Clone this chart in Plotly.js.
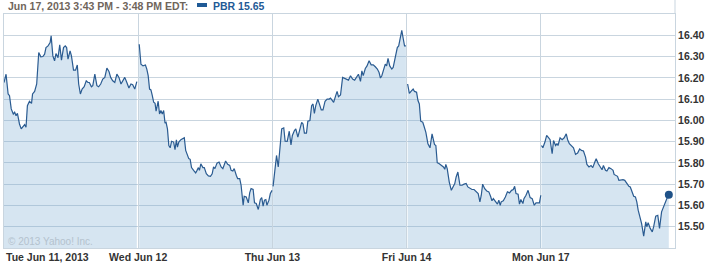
<!DOCTYPE html>
<html>
<head>
<meta charset="utf-8">
<script src="https://cdn.plot.ly/plotly-3.0.1.min.js"></script>
<style>
html,body{margin:0;padding:0;background:#fff;}
#chart{width:712px;height:263px;}
</style>
</head>
<body>
<div id="chart"></div>
<script>
// ---- data (minutes after 9:30 open, price) ----
const dayLabels = ["Tue Jun 11, 2013", "Wed Jun 12", "Thu Jun 13", "Fri Jun 14", "Mon Jun 17"];
const minutesPerDay = 390;

const day1Min = [0,6,12,16,21,27,31,35,39,45,50,56,60,64,68,74,80,83,89,95,101,107,113,118,122,128,134,137,142,147,151,157,162,167,173,178,182,186,192,196,202,208,213,217,222,227,233,239,244,248,254,258,264,270,275,281,287,293,299,305,310,316,322,328,334,340,345,351,357,363,369,374,380,386];
const day1Px = [16.178,16.217,16.124,16.116,16.054,16.030,16.038,16.022,16.033,15.983,15.960,15.971,15.980,15.968,16.069,16.090,16.080,16.124,16.136,16.171,16.319,16.299,16.300,16.311,16.342,16.350,16.366,16.397,16.303,16.280,16.314,16.295,16.355,16.283,16.342,16.350,16.342,16.288,16.327,16.303,16.236,16.236,16.260,16.171,16.124,16.147,16.158,16.186,16.178,16.178,16.158,16.163,16.217,16.163,16.158,16.171,16.194,16.202,16.246,16.230,16.202,16.186,16.178,16.217,16.202,16.171,16.186,16.202,16.178,16.152,16.171,16.168,16.147,16.182];

const day2Min = [3,8,14,21,25,29,33,37,41,45,49,52,58,62,66,70,74,78,81,85,89,93,97,103,107,111,114,118,124,130,134,138,144,147,151,155,161,167,171,175,178,182,188,192,198,204,210,215,219,223,229,235,241,246,254,260,266,270,275,279,285,289,295,299,305,308,314,320,324,328,334,338,343,349,355,359,363,367,371,374,380,384,389];
const day2Px = [16.358,16.264,16.256,16.260,16.241,16.210,16.147,16.143,16.116,16.085,16.080,16.043,16.090,16.030,16.046,16.030,16.046,15.987,15.991,15.960,15.882,15.871,15.902,15.898,15.862,15.909,15.874,15.898,15.909,15.913,15.918,15.859,15.827,15.820,15.817,15.778,15.765,15.753,15.765,15.778,15.765,15.796,15.778,15.778,15.749,15.739,15.737,15.749,15.781,15.773,15.799,15.804,15.781,15.773,15.809,15.793,15.788,15.765,15.762,15.773,15.742,15.726,15.726,15.695,15.601,15.643,15.640,15.612,15.659,15.679,15.675,15.612,15.609,15.581,15.628,15.637,15.597,15.625,15.628,15.601,15.625,15.656,15.671];

const day3Min = [2,6,12,17,23,27,33,37,43,49,54,58,64,68,74,80,85,89,93,99,103,109,114,118,122,126,132,136,142,147,153,159,165,169,175,178,184,188,192,198,204,210,215,221,227,233,239,244,250,256,260,264,270,275,281,287,293,299,305,310,314,318,322,328,332,336,341,347,351,357,363,367,372,376,380,384,388];
const day3Px = [15.690,15.749,15.835,15.781,15.874,15.960,15.965,15.902,15.901,15.949,15.885,15.929,15.952,15.960,15.921,15.960,15.991,15.983,15.940,15.940,15.996,15.999,16.069,16.077,16.033,16.069,16.100,16.080,16.049,16.049,16.090,16.100,16.100,16.105,16.093,16.085,16.116,16.136,16.111,16.119,16.202,16.197,16.194,16.189,16.210,16.194,16.189,16.202,16.217,16.183,16.233,16.210,16.244,16.256,16.280,16.261,16.261,16.252,16.241,16.225,16.199,16.210,16.230,16.264,16.256,16.291,16.256,16.241,16.249,16.303,16.342,16.350,16.397,16.423,16.386,16.350,16.350];

const day4Min = [3,8,14,19,23,29,33,37,41,47,50,56,62,68,74,78,81,85,89,95,101,107,111,114,118,124,130,136,140,144,149,155,161,167,173,178,184,190,196,202,208,213,217,221,227,233,239,244,248,252,258,264,268,272,275,281,287,293,299,305,310,314,318,324,328,332,338,341,347,353,359,365,371,376,382,386,390];
const day4Px = [16.171,16.127,16.139,16.147,16.136,16.132,16.093,16.077,15.996,15.991,15.976,15.944,15.890,15.871,15.937,15.913,15.887,15.882,15.801,15.796,15.788,15.781,15.770,15.793,15.773,15.710,15.671,15.695,15.703,15.734,15.757,15.695,15.695,15.700,15.703,15.687,15.679,15.675,15.675,15.664,15.656,15.617,15.648,15.700,15.679,15.668,15.664,15.643,15.622,15.632,15.617,15.606,15.625,15.601,15.617,15.622,15.640,15.664,15.659,15.671,15.675,15.690,15.656,15.653,15.606,15.628,15.609,15.632,15.648,15.671,15.637,15.632,15.601,15.612,15.612,15.612,15.648];

const day5Min = [2,6,12,17,23,27,33,37,43,47,50,56,62,68,74,78,83,89,95,101,107,113,118,124,130,134,140,146,151,157,161,167,173,178,182,188,192,198,204,210,213,219,223,227,233,239,244,250,256,260,266,270,275,279,283,289,293,299,305,308,312,318,324,328,334,340,345,351,357,363,369,372];
const day5Px = [15.882,15.871,15.898,15.929,15.918,15.909,15.843,15.905,15.882,15.890,15.882,15.918,15.909,15.918,15.937,15.909,15.890,15.882,15.871,15.840,15.846,15.866,15.859,15.856,15.827,15.793,15.781,15.788,15.778,15.804,15.820,15.796,15.781,15.768,15.788,15.765,15.762,15.778,15.773,15.765,15.746,15.742,15.737,15.718,15.721,15.721,15.718,15.703,15.690,15.687,15.664,15.643,15.640,15.617,15.578,15.547,15.515,15.456,15.523,15.500,15.519,15.492,15.476,15.500,15.550,15.554,15.492,15.570,15.593,15.625,15.643,15.65];

const yTicks = [15.5,15.6,15.7,15.8,15.9,16.0,16.1,16.2,16.3,16.4];
const symbol = "PBR";
const lastPrice = 15.65;
const headerText = "Jun 17, 2013 3:43 PM - 3:48 PM EDT:";
const copyrightText = "© 2013 Yahoo! Inc.";

// ---- build ----
const days = [[day1Min,day1Px],[day2Min,day2Px],[day3Min,day3Px],[day4Min,day4Px],[day5Min,day5Px]];
const lineCol = "#2a5b91";
const gridCol = "#c9d5df";
const fam = "'Liberation Sans', Arial, sans-serif";
const tickFont = {family: fam, size: 10.5, color: "#333333", weight: "bold"};

const traces = days.map((d, i) => ({
  x: d[0].map(m => i * minutesPerDay + m),
  y: d[1],
  type: "scatter",
  mode: "lines",
  fill: "tozeroy",
  fillcolor: "rgba(120,170,208,0.30)",
  line: {color: lineCol, width: 1.2},
  hoverinfo: "skip",
  showlegend: false
}));
const last5 = days[4];
traces.push({
  x: [4 * minutesPerDay + last5[0][last5[0].length - 1]],
  y: [lastPrice],
  type: "scatter", mode: "markers",
  marker: {color: "#1f5288", size: 8},
  showlegend: false, hoverinfo: "skip"
});

const layout = {
  width: 712, height: 263,
  margin: {l: 4, r: 37, t: 14, b: 15, pad: 0},
  paper_bgcolor: "#ffffff", plot_bgcolor: "#ffffff",
  showlegend: false,
  xaxis: {
    range: [0, 5 * minutesPerDay],
    tickvals: [1,2,3,4].map(i => i * minutesPerDay),
    ticktext: dayLabels.slice(1),
    showgrid: true, gridcolor: gridCol, gridwidth: 1,
    zeroline: false, showline: true, mirror: true, linecolor: gridCol, linewidth: 1,
    ticks: "", tickfont: tickFont, ticklabelstandoff: -1, fixedrange: true
  },
  yaxis: {
    side: "right",
    range: [15.4, 16.5],
    tickvals: yTicks,
    ticktext: yTicks.map(v => v.toFixed(2)),
    showgrid: true, gridcolor: gridCol, gridwidth: 1,
    zeroline: false, showline: true, mirror: true, linecolor: gridCol, linewidth: 1,
    ticks: "", tickfont: tickFont, fixedrange: true
  },
  shapes: [
    {type: "line", xref: "paper", yref: "paper", x0: 1, x1: 1, y0: 1, y1: 1 + 14/234, line: {color: gridCol, width: 1}},
    {type: "rect", xref: "paper", yref: "paper", x0: 193/671, x1: 203/671, y0: 1 + 7/234, y1: 1 + 11/234, fillcolor: "#1f5a96", line: {width: 0}}
  ],
  annotations: [
    {text: dayLabels[0], xref: "x", yref: "paper", x: 0, y: 0, xanchor: "left", yanchor: "top", yshift: -1, xshift: 0, showarrow: false, font: tickFont},
    {text: headerText, xref: "paper", yref: "paper", x: 2/671, y: 1 + 8/234, xanchor: "left", yanchor: "middle", showarrow: false,
     font: {family: fam, size: 10.5, color: "#6f655b", weight: "bold"}},
    {text: symbol + " " + lastPrice.toFixed(2), xref: "paper", yref: "paper", x: 207/671, y: 1 + 8/234, xanchor: "left", yanchor: "middle", showarrow: false,
     font: {family: fam, size: 10.5, color: "#1f5a96", weight: "bold"}},
    {text: copyrightText, xref: "paper", yref: "paper", x: 2/671, y: 7/234, xanchor: "left", yanchor: "middle", showarrow: false,
     font: {family: fam, size: 10, color: "#b4c2ce"}}
  ]
};

Plotly.newPlot("chart", traces, layout, {displayModeBar: false, staticPlot: true});
</script>
</body>
</html>
